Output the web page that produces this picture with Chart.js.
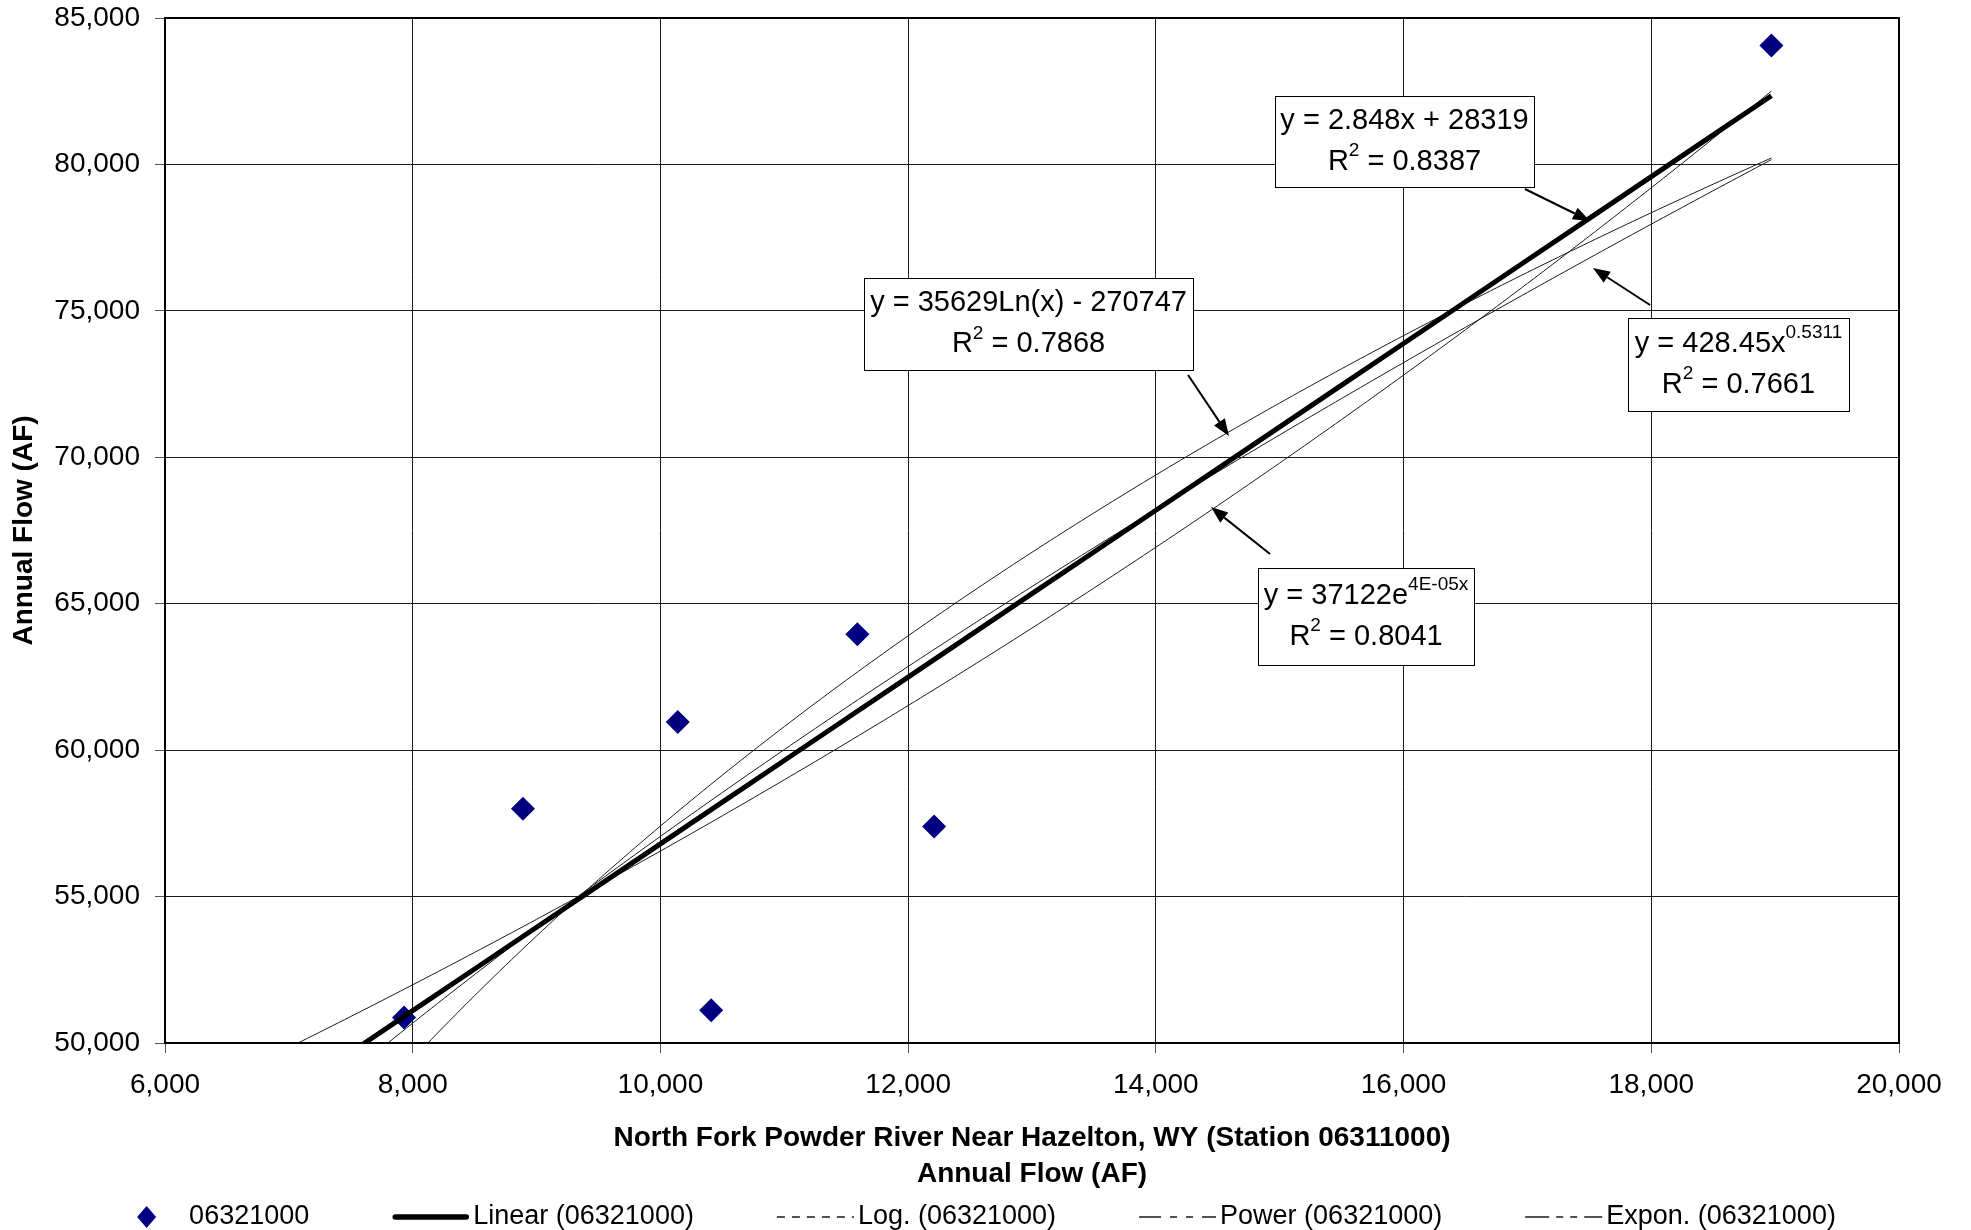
<!DOCTYPE html>
<html>
<head>
<meta charset="utf-8">
<title>Annual Flow Correlation</title>
<script src="https://cdn.jsdelivr.net/npm/chart.js@4.4.1/dist/chart.umd.min.js"></script>
<style>
  html, body { margin: 0; padding: 0; background: #fff; }
  #wrap { width: 1971px; height: 1230px; position: relative; }
</style>
</head>
<body>
<div id="wrap"><canvas id="chart"></canvas></div>
<script>
// ---- data -------------------------------------------------------------
const station = '06321000';
// Annual flow pairs (AF): North Fork Powder River (x) vs. station 06321000 (y)
const flowX = [7930, 8890, 10140, 10410, 11590, 12210, 18970];
const flowY = [50870, 58000, 60960, 51120, 63960, 57390, 84060];

// Fitted trendline coefficients
const linearCoef = [2.848, 28319];        // y = a*x + b
const logCoef    = [35629, -270747];      // y = a*ln(x) + b
const powerCoef  = [428.45, 0.5311];      // y = a*x^b
const expCoef    = [37122, 4.21e-5];      // y = a*e^(b*x)
const rSquared   = [0.8387, 0.7868, 0.7661, 0.8041]; // linear, log, power, expon.

// Axis ticks
const xTickValues = [6000, 8000, 10000, 12000, 14000, 16000, 18000, 20000];
const yTickValues = [50000, 55000, 60000, 65000, 70000, 75000, 80000, 85000];
const xTitleLines = ['North Fork Powder River Near Hazelton, WY (Station 06311000)', 'Annual Flow (AF)'];
const yTitle = 'Annual Flow (AF)';

// ---- trendline curves ------------------------------------------------
const trendStart = xTickValues[0];           // forecast back to the axis
const trendEnd = Math.max(...flowX);
function curve(f, step) {
  const pts = [];
  for (let x = trendStart; x < trendEnd; x += step) pts.push({ x, y: f(x) });
  pts.push({ x: trendEnd, y: f(trendEnd) });
  return pts;
}
const fLinear = x => linearCoef[0] * x + linearCoef[1];
const fLog    = x => logCoef[0] * Math.log(x) + logCoef[1];
const fPower  = x => powerCoef[0] * Math.pow(x, powerCoef[1]);
const fExp    = x => expCoef[0] * Math.exp(expCoef[1] * x);

// Excel-style "0E+00" formatting
function sci(v) {
  const e = Math.floor(Math.log10(Math.abs(v)));
  const m = Math.round(v / Math.pow(10, e));
  const es = (e < 0 ? '-' : '+') + String(Math.abs(e)).padStart(2, '0');
  return m + 'E' + es;
}

// ---- styling ---------------------------------------------------------
const FONT = '"Liberation Sans", Arial, Helvetica, sans-serif';
Chart.defaults.font.family = FONT;
Chart.defaults.color = '#000';

const thin = '#1a1a1a';

const datasets = [
  {
    label: station,
    data: flowX.map((x, i) => ({ x, y: flowY[i] })),
    showLine: false,
    pointStyle: 'rectRot',
    pointRadius: 12,
    pointBorderWidth: 0,
    backgroundColor: '#000080',
    borderColor: '#000080',
    order: 10
  },
  {
    label: 'Linear (' + station + ')',
    data: curve(fLinear, 500),
    showLine: true, pointRadius: 0, borderColor: '#000', borderWidth: 5,
    legendDash: [], legendWidth: 5.5, order: 1, clip: 0
  },
  {
    label: 'Log. (' + station + ')',
    data: curve(fLog, 50),
    showLine: true, pointRadius: 0, borderColor: thin, borderWidth: 1,
    legendDash: [8, 7], legendWidth: 1.5, order: 4, clip: 0
  },
  {
    label: 'Power (' + station + ')',
    data: curve(fPower, 50),
    showLine: true, pointRadius: 0, borderColor: thin, borderWidth: 1,
    legendDash: [22, 9, 7, 9, 7, 9, 14], legendWidth: 1.5, order: 3, clip: 0
  },
  {
    label: 'Expon. (' + station + ')',
    data: curve(fExp, 50),
    showLine: true, pointRadius: 0, borderColor: thin, borderWidth: 1,
    legendDash: [24, 7, 7, 7, 7, 7, 18], legendWidth: 1.5, order: 2, clip: 0
  }
];

// ---- equation callouts (box corner and arrow ends in axis units) -------
const notes = [
  {
    line1: [{ t: 'y = ' + linearCoef[0] + 'x + ' + linearCoef[1] }],
    r2: rSquared[0],
    box: { x: 14962, y: 82336, w: 259, h: 91 },
    from: { x: 16980, y: 79161 }, to: { x: 17505, y: 78068 }
  },
  {
    line1: [{ t: 'y = ' + logCoef[0] + 'Ln(x) - ' + Math.abs(logCoef[1]) }],
    r2: rSquared[1],
    box: { x: 11644, y: 76122, w: 329, h: 92 },
    from: { x: 14260, y: 72810 }, to: { x: 14590, y: 70727 }
  },
  {
    line1: [{ t: 'y = ' + powerCoef[0] + 'x' }, { t: String(powerCoef[1]), sup: true }],
    r2: rSquared[2],
    box: { x: 17812, y: 74756, w: 221, h: 93 },
    from: { x: 17990, y: 75200 }, to: { x: 17529, y: 76463 }
  },
  {
    line1: [{ t: 'y = ' + expCoef[0] + 'e' }, { t: sci(expCoef[1]) + 'x', sup: true }],
    r2: rSquared[3],
    box: { x: 14825, y: 66219, w: 216, h: 97 },
    from: { x: 14922, y: 66697 }, to: { x: 14445, y: 68302 }
  }
];

const mainFont = '29px ' + FONT;
const supFont = '19px ' + FONT;

function drawRich(ctx, parts, cx, cy) {
  let total = 0;
  parts.forEach(p => { ctx.font = p.sup ? supFont : mainFont; p.w = ctx.measureText(p.t).width; total += p.w; });
  let x = cx - total / 2;
  ctx.textAlign = 'left';
  ctx.textBaseline = 'middle';
  parts.forEach(p => {
    ctx.font = p.sup ? supFont : mainFont;
    ctx.fillText(p.t, x, p.sup ? cy - 11 : cy);
    x += p.w;
  });
}

function drawArrow(ctx, x1, y1, x2, y2) {
  const ang = Math.atan2(y2 - y1, x2 - x1);
  const len = 17, half = 6.5;
  const bx = x2 - len * Math.cos(ang), by = y2 - len * Math.sin(ang);
  ctx.beginPath();
  ctx.moveTo(x1, y1);
  ctx.lineTo(bx, by);
  ctx.lineWidth = 2;
  ctx.strokeStyle = '#000';
  ctx.stroke();
  ctx.beginPath();
  ctx.moveTo(x2, y2);
  ctx.lineTo(bx + half * Math.sin(ang), by - half * Math.cos(ang));
  ctx.lineTo(bx - half * Math.sin(ang), by + half * Math.cos(ang));
  ctx.closePath();
  ctx.fillStyle = '#000';
  ctx.fill();
}

const frame = {
  id: 'frame',
  afterDatasetsDraw(chart) {
    const { ctx, chartArea: a } = chart;
    ctx.save();
    ctx.strokeStyle = '#000';
    ctx.lineWidth = 2;
    ctx.strokeRect(a.left, a.top, a.right - a.left, a.bottom - a.top);
    ctx.restore();
  }
};

const callouts = {
  id: 'callouts',
  afterDraw(chart) {
    const { ctx } = chart;
    const xs = chart.scales.x, ys = chart.scales.y;
    ctx.save();
    notes.forEach(n => {
      drawArrow(ctx, xs.getPixelForValue(n.from.x), ys.getPixelForValue(n.from.y),
                     xs.getPixelForValue(n.to.x), ys.getPixelForValue(n.to.y));
      const left = xs.getPixelForValue(n.box.x), top = ys.getPixelForValue(n.box.y);
      ctx.fillStyle = '#fff';
      ctx.fillRect(left, top, n.box.w, n.box.h);
      ctx.strokeStyle = '#000';
      ctx.lineWidth = 1;
      ctx.strokeRect(Math.round(left) + 0.5, Math.round(top) + 0.5, n.box.w, n.box.h);
      ctx.fillStyle = '#000';
      const cx = left + n.box.w / 2, cy = top + n.box.h / 2;
      drawRich(ctx, n.line1, cx, cy - 20.5);
      drawRich(ctx, [{ t: 'R' }, { t: '2', sup: true }, { t: ' = ' + n.r2.toFixed(4) }], cx, cy + 20.5);
    });
    ctx.restore();
  }
};

const legendLayout = { key: 77, gap: 4, spacing: 83, centerX: 972, y: 1217, font: '27px ' + FONT };

const keyLegend = {
  id: 'keyLegend',
  afterDraw(chart) {
    const { ctx } = chart;
    const L = legendLayout;
    ctx.save();
    ctx.font = L.font;
    const items = chart.data.datasets.map(ds => ({ ds, w: L.key + L.gap + ctx.measureText(ds.label).width }));
    const total = items.reduce((s, it) => s + it.w, 0) + L.spacing * (items.length - 1);
    let x = L.centerX - total / 2;
    items.forEach(({ ds, w }) => {
      if (ds.showLine) {
        const inset = ds.legendWidth > 3 ? 3 : 0;
        ctx.beginPath();
        ctx.setLineDash(ds.legendDash);
        ctx.lineWidth = ds.legendWidth;
        ctx.lineCap = inset ? 'round' : 'butt';
        ctx.strokeStyle = ds.borderColor;
        ctx.moveTo(x + inset, L.y);
        ctx.lineTo(x + L.key - inset, L.y);
        ctx.stroke();
        ctx.setLineDash([]);
      } else {
        const cx = x + L.key / 2, rx = 9.5, ry = 11;
        ctx.beginPath();
        ctx.moveTo(cx, L.y - ry);
        ctx.lineTo(cx + rx, L.y);
        ctx.lineTo(cx, L.y + ry);
        ctx.lineTo(cx - rx, L.y);
        ctx.closePath();
        ctx.fillStyle = ds.backgroundColor;
        ctx.fill();
      }
      ctx.fillStyle = '#000';
      ctx.font = L.font;
      ctx.textAlign = 'left';
      ctx.textBaseline = 'middle';
      ctx.fillText(ds.label, x + L.key + L.gap, L.y);
      x += w + L.spacing;
    });
    ctx.restore();
  }
};

const tickFont = { size: 28 };
const gridStyle = { color: '#1a1a1a', lineWidth: 1, tickLength: 10, tickColor: '#555', drawTicks: true };

new Chart(document.getElementById('chart'), {
  type: 'scatter',
  data: { datasets },
  options: {
    responsive: true,
    maintainAspectRatio: false,
    animation: false,
    events: [],
    layout: { padding: { top: 18, right: 72, bottom: 38, left: 0 } },
    plugins: { legend: { display: false }, tooltip: { enabled: false } },
    scales: {
      x: {
        type: 'linear',
        min: xTickValues[0],
        max: xTickValues[xTickValues.length - 1],
        afterBuildTicks: s => { s.ticks = xTickValues.map(v => ({ value: v })); },
        afterFit: s => { s.height = 149; s.paddingLeft = 0; s.paddingRight = 0; },
        grid: gridStyle,
        border: { display: false },
        ticks: { font: tickFont, color: '#000', padding: 15, maxRotation: 0, autoSkip: false },
        title: {
          display: true,
          text: xTitleLines,
          color: '#000',
          font: { size: 28, weight: 'bold', lineHeight: 36 / 28 },
          padding: { top: 0, bottom: 0 }
        }
      },
      y: {
        type: 'linear',
        min: yTickValues[0],
        max: yTickValues[yTickValues.length - 1],
        afterBuildTicks: s => { s.ticks = yTickValues.map(v => ({ value: v })); },
        afterFit: s => { s.width = 165; s.paddingTop = 0; s.paddingBottom = 0; },
        grid: gridStyle,
        border: { display: false },
        ticks: { font: tickFont, color: '#000', padding: 15, autoSkip: false },
        title: {
          display: true,
          text: yTitle,
          color: '#000',
          font: { size: 28, weight: 'bold' },
          padding: { top: 7, bottom: 0 }
        }
      }
    }
  },
  plugins: [frame, callouts, keyLegend]
});
</script>
</body>
</html>
